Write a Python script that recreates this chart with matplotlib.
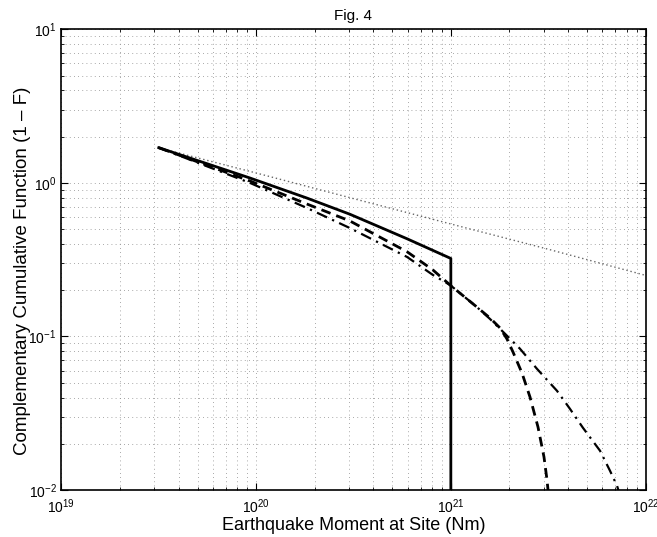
import matplotlib
matplotlib.use("Agg")
import matplotlib.pyplot as plt
from matplotlib.ticker import LogLocator, LogFormatterSciNotation, NullFormatter

plt.rcParams['font.family'] = ['Liberation Sans', 'DejaVu Sans']
plt.rcParams['mathtext.fontset'] = 'custom'
plt.rcParams['mathtext.rm'] = 'Liberation Sans'
plt.rcParams['mathtext.it'] = 'Liberation Sans:italic'
plt.rcParams['mathtext.bf'] = 'Liberation Sans:bold'

# ---- data ----
title = "Fig. 4"
xlabel = "Earthquake Moment at Site (Nm)"
ylabel = "Complementary Cumulative Function (1 \u2013 F)"

solid_x = [3.16e19, 5.15e19, 9.29e19, 1.82e20, 3.03e20, 5.96e20, 1.0e21, 1.0e21]
solid_y = [1.695, 1.38, 1.076, 0.797, 0.625, 0.4325, 0.322, 1e-3]

dashed_x = [3.16e19, 9.29e19, 1.82e20, 3.03e20, 5.96e20, 8.09e20, 9.91e20, 1.36e21,
            1.589e21, 1.789e21, 1.943e21, 2.085e21, 2.32e21, 2.551e21, 2.804e21,
            3.01e21, 3.12e21, 3.175e21]
dashed_y = [1.695, 1.029, 0.729, 0.565, 0.356, 0.271, 0.2163, 0.1555,
            0.1319, 0.1136, 0.0963, 0.0793, 0.0578, 0.0403, 0.0257,
            0.0164, 0.0116, 0.0093]

dashdot_x = [3.16e19, 9.29e19, 1.82e20, 3.03e20, 5.96e20, 8.09e20, 9.91e20, 1.36e21,
             1.589e21, 1.897e21, 2.265e21, 2.768e21, 3.508e21, 4.09e21, 4.77e21,
             5.84e21, 6.57e21, 7.14e21, 7.40e21]
dashdot_y = [1.695, 1.00, 0.687, 0.508, 0.3293, 0.2514, 0.2163, 0.1555,
             0.130, 0.1042, 0.0832, 0.0616, 0.0443, 0.0338, 0.02543,
             0.01802, 0.01335, 0.01066, 0.0092]

dotted_x = [3.16e19, 1.0e20, 3.16e20, 1.0e21, 3.16e21, 1.0e22]
dotted_y = [1.69, 1.16, 0.79, 0.54, 0.37, 0.25]

xlim = (1e19, 1e22)
ylim = (1e-2, 1e1)

# ---- figure ----
fig = plt.figure(figsize=(6.57, 5.37), dpi=100)
ax = fig.add_axes([0.0936, 0.0875, 0.8889, 0.8579])

ax.plot(dotted_x, dotted_y, color='0.4', lw=1.0, ls=(0, (1, 2)))
ax.plot(dashdot_x, dashdot_y, color='black', lw=1.6, ls=(0, (5, 2.5, 1, 2.5)))
ax.plot(dashed_x, dashed_y, color='black', lw=2.0, ls=(0, (3.5, 2.2)))
ax.plot(solid_x, solid_y, color='black', lw=2.0, ls='-')

ax.set_xscale('log')
ax.set_yscale('log')
ax.set_xlim(*xlim)
ax.set_ylim(*ylim)

for axis in (ax.xaxis, ax.yaxis):
    axis.set_major_locator(LogLocator(base=10, numticks=10))
    axis.set_minor_locator(LogLocator(base=10, subs=range(2, 10), numticks=20))
    axis.set_major_formatter(LogFormatterSciNotation())
    axis.set_minor_formatter(NullFormatter())

ax.grid(True, which='both', color='0.55', ls=(0, (1, 4)), lw=0.6)
ax.tick_params(which='both', direction='in', top=True, right=True, labelsize=10, color='black')
ax.tick_params(which='major', length=5, width=0.8)
ax.tick_params(which='minor', length=2.5, width=0.6)
ax.tick_params(axis='x', pad=5)
for s in ax.spines.values():
    s.set_linewidth(1.2)

ax.set_title(title, fontsize=11, pad=7)
ax.set_xlabel(xlabel, fontsize=13, labelpad=1)
ax.set_ylabel(ylabel, fontsize=13.5)
ax.yaxis.set_label_coords(-0.052, 0.475)

fig.savefig("out.png", dpi=100)
